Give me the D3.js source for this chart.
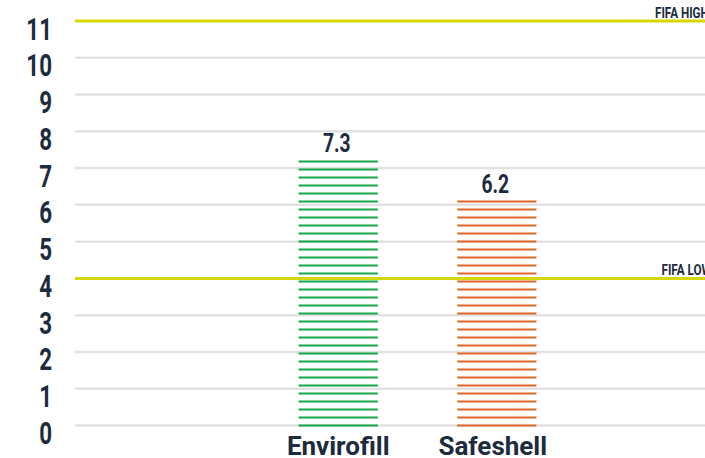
<!DOCTYPE html>
<html lang="en">
<head>
    <meta charset="UTF-8">
    <title>Infill comparison</title>
    <script src="https://d3js.org/d3.v7.min.js"></script>
    <style>
        body { margin: 0; background: #fff; }
        text {
            font-family: Roboto, "Noto Sans", sans-serif;
            font-weight: bold;
            fill: #1c2b3d;
        }
    </style>
</head>
<body>
    <div id="chart"></div>
    <script>
        // data
        const categories = ['Envirofill', 'Safeshell'];
        const values = [7.3, 6.2];
        const barColors = ['#17a34a', '#e2662b'];
        const yTicks = [0, 1, 2, 3, 4, 5, 6, 7, 8, 9, 10, 11];
        const refLines = [
            {label: 'FIFA HIGH', value: 11},
            {label: 'FIFA LOW', value: 4}
        ];

        const width = 705, height = 458;

        const svg = d3.select('#chart')
            .append('svg')
            .attr('width', width)
            .attr('height', height);

        const y = d3.scaleLinear()
            .domain([0, 11])
            .range([425.5, 21]);

        const x = d3.scaleBand()
            .domain(categories)
            .range([75, 760])
            .paddingInner(0.5)
            .paddingOuter(1.41);

        // grid lines
        svg.append('g')
            .selectAll('line')
            .data(yTicks.filter(t => !refLines.some(r => r.value === t)))
            .enter().append('line')
            .attr('x1', 75)
            .attr('x2', 720)
            .attr('y1', d => y(d))
            .attr('y2', d => y(d))
            .attr('stroke', '#e2e2e2')
            .attr('stroke-width', 2.5);

        // tick labels (condensed look via horizontal squeeze)
        svg.append('g')
            .selectAll('text')
            .data(yTicks)
            .enter().append('text')
            .attr('transform', d => `translate(52,${y(d) + 18.5}) scale(0.7,1)`)
            .attr('text-anchor', 'end')
            .style('font-size', '32px')
            .text(d => d);

        // FIFA reference lines
        const refs = svg.append('g');
        refs.selectAll('line')
            .data(refLines)
            .enter().append('line')
            .attr('x1', 75)
            .attr('x2', 720)
            .attr('y1', d => y(d.value))
            .attr('y2', d => y(d.value))
            .attr('stroke', '#d4d800')
            .attr('stroke-width', 3);

        refs.selectAll('text')
            .data(refLines)
            .enter().append('text')
            .attr('transform', d => `translate(${d.value === 11 ? 655 : 661.5},${y(d.value) - 3.5}) scale(0.78,1)`)
            .style('font-size', '15px')
            .text(d => d.label);

        // striped bars: 2px lines every 8px from the baseline up
        const bars = svg.append('g')
            .selectAll('g')
            .data(categories.map((c, i) => ({cat: c, value: values[i], color: barColors[i]})))
            .enter().append('g');

        bars.each(function (d) {
            const top = y(d.value);
            const stripes = d3.range(0, 60)
                .map(k => y(0) - 8 * k)
                .filter(s => s >= top);
            d3.select(this).selectAll('line')
                .data(stripes)
                .enter().append('line')
                .attr('x1', x(d.cat))
                .attr('x2', x(d.cat) + x.bandwidth())
                .attr('y1', s => s)
                .attr('y2', s => s)
                .attr('stroke', d.color)
                .attr('stroke-width', 2);
        });

        bars.append('text')
            .attr('transform', d => `translate(${x(d.cat) + x.bandwidth() / 2 - 1.5},${y(d.value) - 5}) scale(0.77,1)`)
            .attr('text-anchor', 'middle')
            .style('font-size', '25px')
            .text(d => d.value.toFixed(1));

        // category labels
        svg.append('g')
            .selectAll('text')
            .data(categories)
            .enter().append('text')
            .attr('x', (d, i) => x(d) + x.bandwidth() / 2 - (i === 1 ? 4 : 0))
            .attr('y', 455)
            .attr('text-anchor', 'middle')
            .style('font-size', '26px')
            .text(d => d);
    </script>
</body>
</html>
